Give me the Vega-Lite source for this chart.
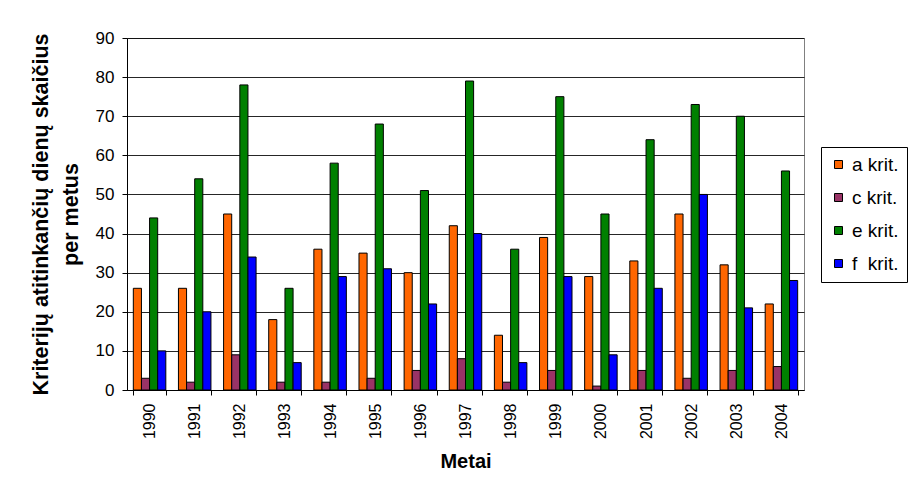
{
  "$schema": "https://vega.github.io/schema/vega-lite/v6.json",
  "autosize": {"type": "none"},
  "padding": {"left": 127, "top": 38, "right": 104, "bottom": 103},
  "width": 677,
  "height": 352,
  "background": "#ffffff",
  "config": {
    "font": "Liberation Sans",
    "view": {"stroke": "#808080", "strokeWidth": 1},
    "axis": {
      "labelFont": "Liberation Sans",
      "titleFont": "Liberation Sans",
      "labelColor": "#000000",
      "titleColor": "#000000",
      "domainColor": "#000000",
      "tickColor": "#000000",
      "tickSize": 5,
      "gridColor": "#000000",
      "gridOpacity": 0.85,
      "gridWidth": 1
    },
    "legend": {
      "labelFont": "Liberation Sans",
      "labelColor": "#000000"
    }
  },
  "data": {
    "values": [
      {"year": "1990", "crit": "a krit.", "days": 26},
      {"year": "1990", "crit": "c krit.", "days": 3},
      {"year": "1990", "crit": "e krit.", "days": 44},
      {"year": "1990", "crit": "f\u00a0 krit.", "days": 10},
      {"year": "1991", "crit": "a krit.", "days": 26},
      {"year": "1991", "crit": "c krit.", "days": 2},
      {"year": "1991", "crit": "e krit.", "days": 54},
      {"year": "1991", "crit": "f\u00a0 krit.", "days": 20},
      {"year": "1992", "crit": "a krit.", "days": 45},
      {"year": "1992", "crit": "c krit.", "days": 9},
      {"year": "1992", "crit": "e krit.", "days": 78},
      {"year": "1992", "crit": "f\u00a0 krit.", "days": 34},
      {"year": "1993", "crit": "a krit.", "days": 18},
      {"year": "1993", "crit": "c krit.", "days": 2},
      {"year": "1993", "crit": "e krit.", "days": 26},
      {"year": "1993", "crit": "f\u00a0 krit.", "days": 7},
      {"year": "1994", "crit": "a krit.", "days": 36},
      {"year": "1994", "crit": "c krit.", "days": 2},
      {"year": "1994", "crit": "e krit.", "days": 58},
      {"year": "1994", "crit": "f\u00a0 krit.", "days": 29},
      {"year": "1995", "crit": "a krit.", "days": 35},
      {"year": "1995", "crit": "c krit.", "days": 3},
      {"year": "1995", "crit": "e krit.", "days": 68},
      {"year": "1995", "crit": "f\u00a0 krit.", "days": 31},
      {"year": "1996", "crit": "a krit.", "days": 30},
      {"year": "1996", "crit": "c krit.", "days": 5},
      {"year": "1996", "crit": "e krit.", "days": 51},
      {"year": "1996", "crit": "f\u00a0 krit.", "days": 22},
      {"year": "1997", "crit": "a krit.", "days": 42},
      {"year": "1997", "crit": "c krit.", "days": 8},
      {"year": "1997", "crit": "e krit.", "days": 79},
      {"year": "1997", "crit": "f\u00a0 krit.", "days": 40},
      {"year": "1998", "crit": "a krit.", "days": 14},
      {"year": "1998", "crit": "c krit.", "days": 2},
      {"year": "1998", "crit": "e krit.", "days": 36},
      {"year": "1998", "crit": "f\u00a0 krit.", "days": 7},
      {"year": "1999", "crit": "a krit.", "days": 39},
      {"year": "1999", "crit": "c krit.", "days": 5},
      {"year": "1999", "crit": "e krit.", "days": 75},
      {"year": "1999", "crit": "f\u00a0 krit.", "days": 29},
      {"year": "2000", "crit": "a krit.", "days": 29},
      {"year": "2000", "crit": "c krit.", "days": 1},
      {"year": "2000", "crit": "e krit.", "days": 45},
      {"year": "2000", "crit": "f\u00a0 krit.", "days": 9},
      {"year": "2001", "crit": "a krit.", "days": 33},
      {"year": "2001", "crit": "c krit.", "days": 5},
      {"year": "2001", "crit": "e krit.", "days": 64},
      {"year": "2001", "crit": "f\u00a0 krit.", "days": 26},
      {"year": "2002", "crit": "a krit.", "days": 45},
      {"year": "2002", "crit": "c krit.", "days": 3},
      {"year": "2002", "crit": "e krit.", "days": 73},
      {"year": "2002", "crit": "f\u00a0 krit.", "days": 50},
      {"year": "2003", "crit": "a krit.", "days": 32},
      {"year": "2003", "crit": "c krit.", "days": 5},
      {"year": "2003", "crit": "e krit.", "days": 70},
      {"year": "2003", "crit": "f\u00a0 krit.", "days": 21},
      {"year": "2004", "crit": "a krit.", "days": 22},
      {"year": "2004", "crit": "c krit.", "days": 6},
      {"year": "2004", "crit": "e krit.", "days": 56},
      {"year": "2004", "crit": "f\u00a0 krit.", "days": 28}
    ]
  },
  "mark": {"type": "bar", "stroke": "#000000", "strokeWidth": 1},
  "encoding": {
    "x": {
      "field": "year",
      "type": "nominal",
      "scale": {"paddingInner": 0.28, "paddingOuter": 0.14},
      "axis": {
        "title": "Metai",
        "titleFontSize": 20,
        "titleFontWeight": "bold",
        "titlePadding": 13,
        "labelAngle": -90,
        "labelFontSize": 16,
        "labelPadding": 8,
        "tickBand": "extent",
        "grid": false
      }
    },
    "xOffset": {
      "field": "crit",
      "type": "nominal",
      "scale": {"paddingInner": 0, "paddingOuter": 0}
    },
    "y": {
      "field": "days",
      "type": "quantitative",
      "scale": {"domain": [0, 90], "nice": false},
      "axis": {
        "title": ["Kriterijų atitinkančių dienų skaičius", "per metus"],
        "titleFontSize": 21.5,
        "titleFontWeight": "bold",
        "titleLineHeight": 30,
        "titlePadding": 13,
        "values": [0, 10, 20, 30, 40, 50, 60, 70, 80, 90],
        "labelFontSize": 17,
        "labelPadding": 8,
        "grid": true
      }
    },
    "color": {
      "field": "crit",
      "type": "nominal",
      "scale": {
        "domain": ["a krit.", "c krit.", "e krit.", "f\u00a0 krit."],
        "range": ["#FF6600", "#993366", "#008000", "#0000FF"]
      },
      "legend": {
        "title": null,
        "orient": "none",
        "legendX": 694,
        "legendY": 109,
        "symbolType": "square",
        "symbolSize": 64,
        "symbolStrokeColor": "#000000",
        "symbolStrokeWidth": 1,
        "labelFontSize": 19,
        "labelOffset": 4,
        "rowPadding": 13,
        "padding": 8,
        "strokeColor": "#000000",
        "fillColor": "#ffffff"
      }
    }
  }
}
